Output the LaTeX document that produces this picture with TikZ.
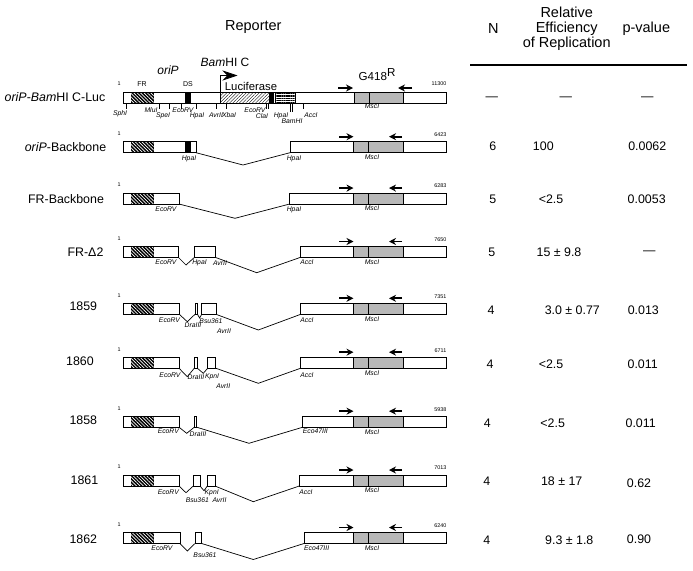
\documentclass[tikz,border=0pt]{standalone}
\usepackage{fontspec}
\setmainfont{Liberation Sans}
\usetikzlibrary{arrows.meta, patterns.meta}

\tikzstyle{seg}      = [draw=black, line width=0.7pt]
\tikzstyle{frbox}    = [preaction={fill=black}, pattern={Lines[angle=-45,distance=2.4pt,line width=0.7pt]}, pattern color=white]
\tikzstyle{lucbox}   = [pattern={Lines[angle=45,distance=2.3pt,line width=0.4pt]}]
\tikzstyle{linebox}  = [pattern={Lines[angle=0,distance=1.8pt,line width=0.5pt]}]
\tikzstyle{neobox}   = [draw=black, line width=0.7pt, fill=black!28]
\tikzstyle{splice}   = [line width=0.7pt]
\tikzstyle{primer}   = [line width=1.8pt, -{Stealth[length=7pt,width=7pt]}]
\tikzstyle{site}     = [font=\fontsize{6.8}{7}\selectfont\itshape, inner sep=0pt]
\tikzstyle{coord}    = [font=\fontsize{5.4}{6}\selectfont, inner sep=0pt]
\tikzstyle{rowlabel} = [font=\fontsize{12.4}{14}\selectfont, inner sep=0pt]
\tikzstyle{val}      = [font=\fontsize{12.4}{14}\selectfont, inner sep=0pt]
\tikzstyle{head}     = [font=\fontsize{14.5}{15}\selectfont, inner sep=0pt, align=center]

% left end of a construct: 1 ... FR ... cut site
\newcommand{\frside}[3]{%
  \draw[seg, fill=white] (123.3,#1-5.5) rectangle (#2,#1+5.5);
  \fill[frbox] (131,#1-5.5) rectangle (153.5,#1+5.5);
  \draw[seg] (123.3,#1-5.5) rectangle (#2,#1+5.5);
  \node[coord] (#3one) at (119,#1-13.5) {1};
}
% right end of a construct: neo cassette with primers
\newcommand{\neoside}[4]{%
  \draw[seg, fill=white] (#2,#1-5.5) rectangle (446.5,#1+5.5);
  \draw[neobox] (353.5,#1-5.5) rectangle (403.5,#1+5.5);
  \draw[splice] (368.5,#1-5.5) -- (368.5,#1+5.5);
  \draw[primer] (339,#1-10.5) -- (353.5,#1-10.5);
  \draw[primer] (402,#1-10.5) -- (389,#1-10.5);
  \node[site] (#4msc) at (372,#1+10) {MscI};
  \node[coord, anchor=east] (#4len) at (446.5,#1-12.5) {#3};
}

\begin{document}
\begin{tikzpicture}[x=1pt, y=-1pt]
\useasboundingbox (0,0) rectangle (693,570);

\node (reporter) [head] at (253.3,26.7) {Reporter};
\node (nhead)    [head] at (493.3,28.3) {N};
\node (effhead)  [head] at (566.7,28.3) {Relative\\Efficiency\\of Replication};
\node (phead)    [head] at (646.3,28.3) {p-value};
\draw[line width=1.8pt] (470,65) -- (686.7,65);

% oriP-BamHI C-Luc
\draw[seg, fill=white] (123.3,92) rectangle (446.5,103);
\fill[frbox] (131,92) rectangle (153.5,103);
\draw[seg, fill=black] (185,92) rectangle (190.5,103);
\draw[seg, lucbox] (220.5,92) rectangle (269.5,103);
\draw[seg, fill=black] (269.5,92) rectangle (273.3,103);
\draw[seg, linebox] (275.7,92) rectangle (295,103);
\draw[neobox] (354,92) rectangle (403.5,103);
\draw[splice] (369,92) -- (369,103);
\draw[seg] (123.3,92) rectangle (446.5,103);
\draw[splice] (126,103) -- (126,109) (159,103) -- (159,109) (169.3,103) -- (169.3,109)
  (181,103) -- (181,109) (196,103) -- (196,109) (216,103) -- (216,109) (226,103) -- (226,109)
  (266.7,103) -- (266.7,109) (268.3,103) -- (268.3,109) (290,103) -- (290,112)
  (292.7,103) -- (292.7,112) (303.3,103) -- (303.3,109);
\draw[splice, -{Stealth[length=15pt,width=10pt]}] (220.5,92) -- (220.5,75.5) -- (237.5,75.5);
\draw[primer] (338,88) -- (353,88);
\draw[primer] (412,88) -- (398,88);
\node (orip)   [font=\fontsize{12}{14}\selectfont\itshape, inner sep=0pt] at (168,70) {oriP};
\node (bamc)   [font=\fontsize{12}{14}\selectfont, inner sep=0pt] at (225,62) {\textit{Bam}HI C};
\node (frlab)  [font=\fontsize{7}{8}\selectfont, inner sep=0pt] at (142,84.5) {FR};
\node (dslab)  [font=\fontsize{7}{8}\selectfont, inner sep=0pt] at (188,84.5) {DS};
\node (luc)    [font=\fontsize{11.3}{13}\selectfont, inner sep=0pt] at (251,86) {Luciferase};
\node (neo)    [font=\fontsize{11.6}{13}\selectfont, inner sep=0pt] at (377,75) {G418\raisebox{4pt}{R}};
\node (lucone) [coord] at (119,84) {1};
\node (luclen) [coord, anchor=east] at (446.5,84) {11300};
\node (sph)  [site] at (120,114) {SphI};
\node (mlu)  [site] at (151,110) {MluI};
\node (spe)  [site] at (163,115.5) {SpeI};
\node (ecoa) [site] at (183,110) {EcoRV};
\node (hpaa) [site] at (197,115.5) {HpaI};
\node (avr)  [site] at (216,115.5) {AvrII};
\node (xba)  [site] at (229,115.5) {XbaI};
\node (ecob) [site] at (255,110) {EcoRV};
\node (cla)  [site] at (262,116) {ClaI};
\node (hpab) [site] at (281,115.5) {HpaI};
\node (bam)  [site] at (292,121) {BamHI};
\node (acc)  [site] at (311,115.5) {AccI};
\node (msc)  [site] at (372,106.5) {MscI};
\node (luclab) [rowlabel] at (55,97.5) {\textit{oriP}-\textit{Bam}HI C-Luc};
\node (lucn)   [val] at (491.7,98.3) {---};
\node (luceff) [val] at (565.7,98.3) {---};
\node (lucp)   [val] at (647.3,98.3) {---};

% oriP-Backbone
\frside{147.2}{196}{bb}
\draw[seg, fill=black] (185.7,141.7) rectangle (190.7,152.7);
\draw[splice] (196,152.7) -- (243,165) -- (290,152.7);
\neoside{147.2}{290}{6423}{bb}
\node (bbhpaa) [site] at (189,158.5) {HpaI};
\node (bbhpab) [site] at (294,158.5) {HpaI};
\node (bblab) [rowlabel] at (65.5,146.7) {\textit{oriP}-Backbone};
\node (bbn)   [val] at (492.7,146.7) {6};
\node (bbeff) [val] at (543.3,146.7) {100};
\node (bbp)   [val] at (647.3,146.7) {0.0062};

% FR-Backbone
\frside{198.6}{179.3}{fr}
\draw[splice] (179.3,204.1) -- (235,218.3) -- (289.3,204.1);
\neoside{198.6}{289.3}{6283}{fr}
\node (freco) [site] at (166,209.5) {EcoRV};
\node (frhpa) [site] at (294,209.5) {HpaI};
\node (frlab) [rowlabel] at (66,199) {FR-Backbone};
\node (frn)   [val] at (492.7,199.3) {5};
\node (freff) [val] at (551,199.3) {<2.5};
\node (frp)   [val] at (646.7,199.3) {0.0053};

% FR-delta2
\frside{252}{178.5}{dt}
\draw[splice] (178.5,257.5) -- (186,265) -- (194.3,257.5);
\draw[seg, fill=white] (194.3,246.5) rectangle (215.7,257.5);
\draw[splice] (215.7,257.5) -- (256.7,272.7) -- (300,257.5);
\neoside{252}{300}{7650}{dt}
\node (dteco) [site] at (166,262.5) {EcoRV};
\node (dthpa) [site] at (199.5,262.5) {HpaI};
\node (dtavr) [site] at (220,263.5) {AvrII};
\node (dtacc) [site] at (307,262.5) {AccI};
\node (dtlab) [rowlabel] at (85.5,251.7) {FR-Δ2};
\node (dtn)   [val] at (491.7,252.7) {5};
\node (dteff) [val] at (559,252.7) {15 ± 9.8};
\node (dtp)   [val] at (649.3,252.7) {---};

% 1859
\frside{308.8}{179.3}{ca}
\draw[splice] (179.3,314.3) -- (187.3,321.7) -- (195,314.3);
\draw[seg, fill=white] (195,303.3) rectangle (197.5,314.3);
\draw[splice] (197.5,314.3) -- (199.6,318) -- (201.7,314.3);
\draw[seg, fill=white] (201.7,303.3) rectangle (216,314.3);
\draw[splice] (216,314.3) -- (258.3,330) -- (300.7,314.3);
\neoside{308.8}{300.7}{7351}{ca}
\node (caeco) [site] at (169.5,320) {EcoRV};
\node (cadra) [site] at (193,325) {DraIII};
\node (cabsu) [site] at (211,321.5) {Bsu361};
\node (caavr) [site] at (224,331) {AvrII};
\node (caacc) [site] at (307,320) {AccI};
\node (calab) [rowlabel] at (83.3,306.7) {1859};
\node (can)   [val] at (491,310) {4};
\node (caeff) [val] at (572.3,310) {3.0 ± 0.77};
\node (cap)   [val] at (643.3,310) {0.013};

% 1860
\frside{362.7}{179}{cb}
\draw[splice] (179,368.2) -- (187.3,376.7) -- (194.3,368.2);
\draw[seg, fill=white] (194.3,357.2) rectangle (197.3,368.2);
\draw[splice] (197.3,368.2) -- (203.3,373.3) -- (207.7,368.2);
\draw[seg, fill=white] (207.7,357.2) rectangle (215.7,368.2);
\draw[splice] (215.7,368.2) -- (258.3,383.3) -- (300.7,368.2);
\neoside{362.7}{300.7}{6711}{cb}
\node (cbeco) [site] at (170,375) {EcoRV};
\node (cbdra) [site] at (196,377.5) {DraIII};
\node (cbkpn) [site] at (212,377) {KpnI};
\node (cbavr) [site] at (223.3,386) {AvrII};
\node (cbacc) [site] at (307,375) {AccI};
\node (cblab) [rowlabel] at (80,361.7) {1860};
\node (cbn)   [val] at (490,364.3) {4};
\node (cbeff) [val] at (551,364.3) {<2.5};
\node (cbp)   [val] at (642.7,364.3) {0.011};

% 1858
\frside{421.7}{179}{cc}
\draw[splice] (179,427.2) -- (186.7,433.3) -- (194.3,427.2);
\draw[seg, fill=white] (194.3,416.2) rectangle (196.7,427.2);
\draw[splice] (196.7,427.2) -- (249,443.3) -- (302.7,427.2);
\neoside{421.7}{302.7}{5938}{cc}
\node (cceco) [site] at (168.3,431.5) {EcoRV};
\node (ccdra) [site] at (198,434.5) {DraIII};
\node (ccecf) [site, anchor=west] at (302.7,431.5) {Eco47III};
\node (cclab) [rowlabel] at (83.3,420) {1858};
\node (ccn)   [val] at (487.3,423.3) {4};
\node (cceff) [val] at (552.7,423.3) {<2.5};
\node (ccp)   [val] at (640.7,423.3) {0.011};

% 1861
\frside{480.5}{179}{cd}
\draw[splice] (179,486) -- (186,492.7) -- (193.3,486);
\draw[seg, fill=white] (193.3,475) rectangle (200,486);
\draw[splice] (200,486) -- (204,490.7) -- (207.3,486);
\draw[seg, fill=white] (207.3,475) rectangle (215,486);
\draw[splice] (215,486) -- (253.3,501.7) -- (299.3,486);
\neoside{480.5}{299.3}{7013}{cd}
\node (cdeco) [site] at (168.3,492.5) {EcoRV};
\node (cdkpn) [site] at (211.7,493) {KpnI};
\node (cdbsu) [site] at (197.3,500.5) {Bsu361};
\node (cdavr) [site] at (219.5,500.5) {AvrII};
\node (cdacc) [site] at (306,492.5) {AccI};
\node (cdlab) [rowlabel] at (84.5,480) {1861};
\node (cdn)   [val] at (486.7,481.7) {4};
\node (cdeff) [val] at (561.7,481.7) {18 ± 17};
\node (cdp)   [val] at (639,483.3) {0.62};

% 1862
\frside{538}{180}{ce}
\draw[splice] (180,543.5) -- (187.3,551) -- (195,543.5);
\draw[seg, fill=white] (195,532.5) rectangle (201.7,543.5);
\draw[splice] (201.7,543.5) -- (253.3,559.5) -- (304,543.5);
\neoside{538}{304}{6240}{ce}
\node (ceeco) [site] at (162,548.5) {EcoRV};
\node (cebsu) [site] at (205,555) {Bsu361};
\node (ceecf) [site, anchor=west] at (304,548.5) {Eco47III};
\node (celab) [rowlabel] at (83.3,539) {1862};
\node (cen)   [val] at (486.7,540.7) {4};
\node (ceeff) [val] at (569.3,540.7) {9.3 ± 1.8};
\node (cep)   [val] at (639,539) {0.90};

\end{tikzpicture}
\end{document}
